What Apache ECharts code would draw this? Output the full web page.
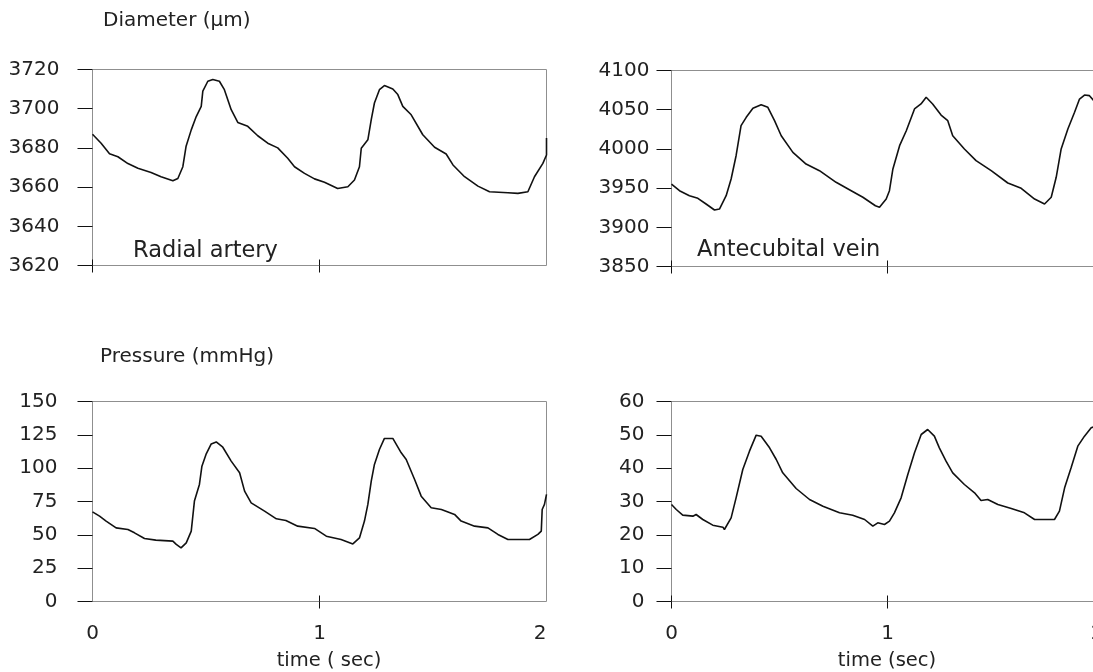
<!DOCTYPE html>
<html><head><meta charset="utf-8">
<script src="https://cdn.jsdelivr.net/npm/echarts@6/dist/echarts.min.js"></script>
<style>html,body{margin:0;padding:0;background:#fff}#c{width:1093px;height:672px}</style>
</head><body><div id="c"></div>
<script>
// ---- Data (time in seconds) ----
const radialDiamTime = [0,0.038,0.075,0.112,0.156,0.2,0.258,0.302,0.354,0.376,0.398,0.412,0.435,0.457,0.479,0.486,0.508,0.53,0.559,0.581,0.611,0.64,0.684,0.728,0.772,0.816,0.86,0.89,0.934,0.978,1.022,1.08,1.125,1.154,1.176,1.184,1.213,1.228,1.242,1.264,1.286,1.323,1.345,1.367,1.404,1.455,1.507,1.558,1.588,1.639,1.698,1.749,1.83,1.874,1.918,1.947,1.984,2.0,2.0];
const radialDiam = [3687,3682.4,3677,3675.5,3672,3669.6,3667.5,3665.3,3663.2,3664.4,3670.4,3680.7,3689.2,3696,3701.2,3709,3714,3714.9,3714,3709.7,3699.5,3693,3691,3686.2,3682.4,3680,3674.7,3670.4,3667,3664.2,3662.5,3659.3,3660.2,3663.6,3670.4,3679.8,3684.1,3694.4,3702.9,3709.7,3711.8,3710.1,3707.2,3701.2,3696.9,3686.7,3680.3,3676.9,3671.3,3665.3,3660.5,3657.6,3657.1,3656.8,3657.6,3665.3,3672.1,3676.4,3685];

const veinDiamTime = [0,0.037,0.083,0.122,0.16,0.199,0.222,0.253,0.276,0.299,0.322,0.346,0.377,0.415,0.446,0.477,0.508,0.562,0.623,0.685,0.762,0.832,0.886,0.944,0.963,0.994,1.009,1.025,1.056,1.087,1.125,1.155,1.179,1.209,1.248,1.279,1.302,1.356,1.41,1.48,1.557,1.619,1.681,1.727,1.758,1.781,1.804,1.835,1.866,1.889,1.912,1.935,1.96];
const veinDiam = [3955.2,3946.7,3940.3,3937,3929.7,3922.1,3923.3,3940.3,3961.6,3991.3,4029.6,4040.3,4051.8,4056.4,4053,4036,4016.8,3995.6,3980.7,3972.2,3957.4,3946.7,3938.3,3927.5,3925.5,3936,3946.7,3974.4,4004.1,4023.2,4051,4057.3,4065.8,4057.3,4043.2,4036,4016.8,3999.9,3985,3972.2,3956.5,3949.7,3936,3929.7,3938.3,3963.8,4000,4025.4,4046.7,4063.6,4068.7,4067.9,4060];

const radialPresTime = [0,0.031,0.06,0.104,0.156,0.185,0.229,0.279,0.354,0.369,0.39,0.413,0.435,0.449,0.471,0.482,0.5,0.523,0.545,0.574,0.611,0.648,0.67,0.699,0.758,0.81,0.852,0.904,0.978,1.03,1.095,1.147,1.176,1.198,1.213,1.228,1.242,1.264,1.286,1.323,1.36,1.382,1.419,1.448,1.492,1.537,1.595,1.624,1.683,1.742,1.786,1.83,1.925,1.962,1.977,1.981,1.991,2.0];
const radialPres = [67.2,64,60.3,55.2,54,51.5,47.2,46,45.3,42.8,40.2,44,52.8,75.3,87.8,101.5,110.3,118.2,119.7,115.7,105.3,96.5,82.8,74,67.8,62,60.8,56.5,54.8,49,46.5,43.2,47.7,60.3,72.8,90.3,102.8,114,122.3,122.3,111.5,106.5,91.5,79,70.3,69,65.3,60.3,56.5,55.2,50.3,46.5,46.5,50.3,52.8,69,72.8,80.3];

const veinPresTime = [0,0.022,0.052,0.099,0.114,0.145,0.191,0.238,0.245,0.276,0.299,0.33,0.361,0.392,0.415,0.454,0.485,0.515,0.577,0.639,0.701,0.778,0.839,0.894,0.932,0.955,0.986,1.009,1.032,1.063,1.094,1.125,1.156,1.186,1.217,1.24,1.271,1.302,1.356,1.403,1.433,1.464,1.511,1.573,1.634,1.681,1.773,1.796,1.82,1.85,1.881,1.912,1.943,1.96];
const veinPres = [29.1,27.6,25.9,25.6,26.1,24.6,22.9,22.3,21.6,25.1,31.1,39.6,45.1,49.9,49.6,46.1,42.6,38.6,33.9,30.6,28.6,26.6,25.9,24.6,22.6,23.6,23.1,24.1,26.6,31.1,38.1,44.6,50.1,51.6,49.6,46.1,42.1,38.6,35.1,32.6,30.3,30.6,29.1,27.9,26.6,24.6,24.6,27.1,34.1,40.1,46.6,49.6,52.1,52.5];

// tick values
const radialDiamTicks = [3620,3640,3660,3680,3700,3720];
const veinDiamTicks = [3850,3900,3950,4000,4050,4100];
const radialPresTicks = [0,25,50,75,100,125,150];
const veinPresTicks = [0,10,20,30,40,50,60];
const timeTicks = [0,1,2];

const FONT = '"DejaVu Sans", "Liberation Sans", sans-serif';
const TXT = '#222';

const panels = [
  {grid:{left:92.5, top:69.5, width:454, height:196}, t:radialDiamTime, v:radialDiam, ticks:radialDiamTicks, margin:33, xLabels:false, xTickVals:[0,1]},
  {grid:{left:671.5, top:70.5, width:432, height:196}, t:veinDiamTime, v:veinDiam, ticks:veinDiamTicks, margin:22, xLabels:false, xTickVals:[0,1]},
  {grid:{left:92.5, top:401.5, width:454, height:200}, t:radialPresTime, v:radialPres, ticks:radialPresTicks, margin:35, xLabels:true, xTickVals:[1]},
  {grid:{left:671.5, top:401.5, width:432, height:200}, t:veinPresTime, v:veinPres, ticks:veinPresTicks, margin:27, xLabels:true, xTickVals:[0,1]}
];

const grid = [], xAxis = [], yAxis = [], series = [];
panels.forEach((p, i) => {
  grid.push(Object.assign({show:true, borderColor:'#8f8f8f', borderWidth:1, backgroundColor:'#fff', outerBoundsMode:'none', containLabel:false}, p.grid));
  const tMin = timeTicks[0], tMax = timeTicks[timeTicks.length-1];
  xAxis.push({
    type:'value', gridIndex:i, min:tMin, max:tMax, interval:1, position:'bottom',
    axisLine:{show:false}, splitLine:{show:false},
    axisTick:{show:true, length:7, customValues:p.xTickVals, lineStyle:{color:'#111', width:1}},
    axisLabel:{show:p.xLabels, margin:22, fontSize:20, color:TXT, fontFamily:FONT, alignMaxLabel:'right'}
  });
  xAxis.push({
    type:'value', gridIndex:i, min:tMin, max:tMax, interval:1, position:'bottom',
    axisLine:{show:false}, splitLine:{show:false},
    axisTick:{show:true, inside:true, length:6, customValues:p.xTickVals, lineStyle:{color:'#111', width:1}},
    axisLabel:{show:false}
  });
  const lo = p.ticks[0], hi = p.ticks[p.ticks.length-1];
  yAxis.push({
    type:'value', gridIndex:i, min:lo, max:hi, interval:p.ticks[1]-p.ticks[0],
    axisLine:{show:false}, splitLine:{show:false},
    axisTick:{show:true, length:15, lineStyle:{color:'#111', width:1}},
    axisLabel:{margin:p.margin, fontSize:20, color:TXT, fontFamily:FONT, formatter:(v) => String(v)}
  });
  series.push({
    type:'line', xAxisIndex:i*2, yAxisIndex:i, showSymbol:false, symbol:'none',
    data:p.t.map((t, k) => [t, p.v[k]]),
    lineStyle:{color:'#111', width:1.6}, clip:true
  });
});

const chart = echarts.init(document.getElementById('c'), null, {renderer:'canvas'});
chart.setOption({
  animation:false,
  backgroundColor:'#fff',
  grid, xAxis, yAxis, series,
  graphic:[
    {type:'text', x:103, y:21, style:{text:'Diameter (\u00b5m)', font:'20px ' + FONT, fill:TXT, align:'left', verticalAlign:'middle'}},
    {type:'text', x:100, y:357, style:{text:'Pressure (mmHg)', font:'20px ' + FONT, fill:TXT, align:'left', verticalAlign:'middle'}},
    {type:'text', x:133, y:251, style:{text:'Radial artery', font:'22.5px ' + FONT, fill:TXT, align:'left', verticalAlign:'middle'}},
    {type:'text', x:697, y:250, style:{text:'Antecubital vein', font:'22.5px ' + FONT, fill:TXT, align:'left', verticalAlign:'middle'}},
    {type:'text', x:329, y:661, style:{text:'time ( sec)', font:'19.5px ' + FONT, fill:TXT, align:'center', verticalAlign:'middle'}},
    {type:'text', x:887, y:661, style:{text:'time (sec)', font:'19.5px ' + FONT, fill:TXT, align:'center', verticalAlign:'middle'}}
  ]
});
</script></body></html>
